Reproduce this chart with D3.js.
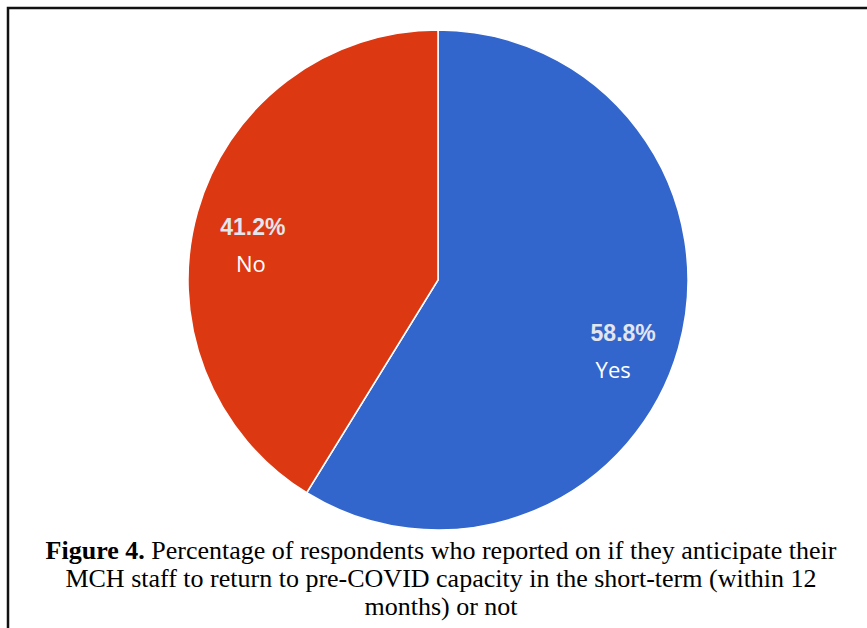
<!DOCTYPE html>
<html>
<head>
<meta charset="utf-8">
<script src="https://cdn.jsdelivr.net/npm/d3@7"></script>
<style>
  body { margin: 0; background: #fff; }
  svg { display: block; }
</style>
</head>
<body>
<div class="chart-area"></div>
<script>
// data
const labels = ["Yes", "No"];
const values = [58.8, 41.2];
const colors = ["#3366cc", "#dc3912"];
const captionBold = "Figure 4.";
const captionLines = [
  " Percentage of respondents who reported on if they anticipate their",
  "MCH staff to return to pre-COVID capacity in the short-term (within 12",
  "months) or not"
];

let width = 867;
let height = 628;

const svg = d3.select(".chart-area").append("svg")
  .attr("width", width)
  .attr("height", height)
  .attr("viewBox", [0, 0, width, height]);

// frame round the figure (top + left visible)
svg.append("path")
  .attr("d", `M8,${height} L8,8 L${width},8`)
  .attr("fill", "none")
  .attr("stroke", "#111")
  .attr("stroke-width", 2.5);

const cx = 438, cy = 280, r = 250;

const pie = d3.pie().sort(null).value(d => d.value);
const arcs = pie(labels.map((l, i) => ({label: l, value: values[i], color: colors[i]})));

const arc = d3.arc().innerRadius(0).outerRadius(r);
const labelArc = d3.arc().innerRadius(r * 0.77).outerRadius(r * 0.77);

const g = svg.append("g").attr("transform", `translate(${cx},${cy})`);

g.selectAll("path")
  .data(arcs)
  .join("path")
  .attr("d", arc)
  .attr("fill", d => d.data.color)
  .attr("stroke", "#fff")
  .attr("stroke-width", 1.5);

// percentage labels
g.selectAll(".pct")
  .data(arcs)
  .join("text")
  .attr("class", "pct")
  .attr("x", d => labelArc.centroid(d)[0])
  .attr("y", d => labelArc.centroid(d)[1] + 8)
  .attr("text-anchor", "middle")
  .attr("font-family", "Arial, 'Liberation Sans', sans-serif")
  .attr("font-weight", "bold")
  .attr("font-size", 23)
  .attr("fill", "#e3e6ee")
  .text(d => d.data.value.toFixed(1) + "%");

// category labels
g.selectAll(".name")
  .data(arcs)
  .join("text")
  .attr("class", "name")
  .attr("x", d => labelArc.centroid(d)[0] + (d.data.label === "Yes" ? -10 : -2))
  .attr("y", d => labelArc.centroid(d)[1] + 45)
  .attr("text-anchor", "middle")
  .attr("font-family", "'Open Sans', sans-serif")
  .attr("font-size", 22)
  .attr("fill", "#fff")
  .text(d => d.data.label);

// caption
const cap = svg.append("g")
  .attr("font-family", "'Liberation Serif', 'Times New Roman', serif")
  .attr("font-size", 26)
  .attr("fill", "#000")
  .attr("text-anchor", "middle");

const first = cap.append("text").attr("x", 441).attr("y", 559);
first.append("tspan").attr("font-weight", "bold").text(captionBold);
first.append("tspan").text(captionLines[0]);

captionLines.slice(1).forEach((t, i) => {
  cap.append("text")
    .attr("x", 441)
    .attr("y", 587 + i * 28)
    .text(t);
});
</script>
</body>
</html>
